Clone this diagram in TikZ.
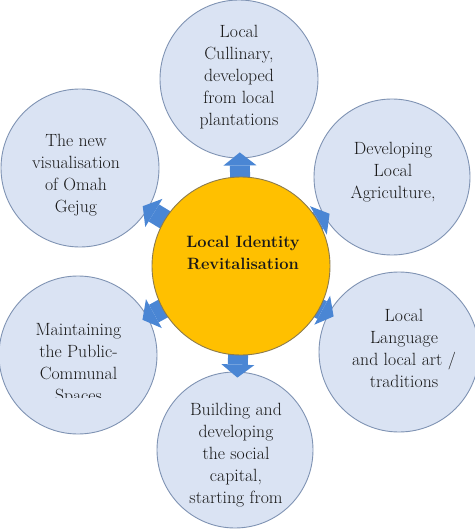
\documentclass[tikz,border=0pt]{standalone}
\usetikzlibrary{arrows.meta}
\definecolor{outerfill}{HTML}{DAE3F3}
\definecolor{outerdraw}{HTML}{7F93B3}
\definecolor{corefill}{HTML}{FFC000}
\definecolor{coredraw}{HTML}{8C7B4E}
\definecolor{arrowblue}{HTML}{4A86D4}
\begin{document}
\begin{tikzpicture}[x=1pt,y=-1pt,
  outer/.style={circle,draw=outerdraw,fill=outerfill,line width=0.9pt,inner sep=0pt,minimum size=#1},
  core/.style={circle,draw=coredraw,fill=corefill,line width=0.9pt,inner sep=0pt,minimum size=178pt},
  label text/.style={align=center,inner sep=0pt,font=\fontsize{17.7}{22}\selectfont,text=black!90},
  core text/.style={align=center,inner sep=0pt,font=\fontsize{16.4}{22}\selectfont\bfseries,text=black!90},
  blockarrow/.style={draw=arrowblue,line width=20pt,-{Triangle[length=13pt,width=33pt,line width=0pt]},shorten >=-6pt,shorten <=-4pt}]
\useasboundingbox (0,0) rectangle (474,529);
% outer circles
\node[outer=158pt] (top) at (239,79) {};
\node[outer=158pt] (ul) at (80,168) {};
\node[outer=156pt] (ur) at (392,177) {};
\node[outer=158pt] (ll) at (78,355) {};
\node[outer=160pt] (lr) at (399,352) {};
\node[outer=156pt] (bot) at (235,450) {};
% arrows (drawn beneath the core circle)
\node[circle,inner sep=0pt,minimum size=178pt] (corepos) at (241,266) {};
\foreach \t in {top,ul,ur,ll,lr,bot}{
  \draw[blockarrow] (corepos) -- (\t);
}
% core circle
\node[core] (core) at (241,266) {};
% texts
\node[label text] (ttop) at (239,77) {Local\\Cullinary,\\developed\\from local\\plantations};
\node[label text] (tul) at (76,175) {The new\\visualisation\\of Omah\\Gejug};
\node[label text] (tur) at (393,172) {Developing\\Local\\Agriculture,};
\node[label text] (tlr) at (404,348.5) {Local\\Language\\and local art /\\traditions};
\begin{scope}
  \clip (0,270) rectangle (160,397);
  \node[label text] (tll) at (78.5,364) {Maintaining\\the Public-\\Communal\\Spaces};
\end{scope}
\node[label text] (tbot) at (236,455.5) {Building and\\developing\\the social\\capital,\\starting from};
\node[core text] (tcore) at (243,252.5) {Local Identity\\Revitalisation};
\end{tikzpicture}
\end{document}
